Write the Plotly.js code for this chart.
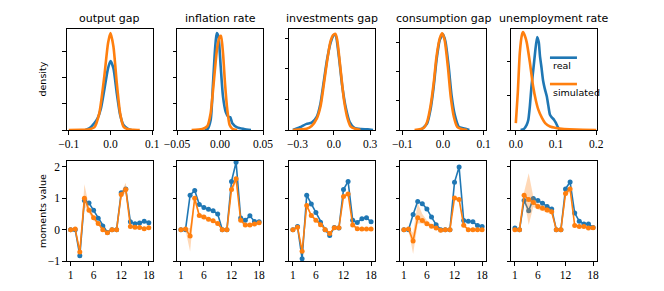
<!DOCTYPE html>
<html><head><meta charset="utf-8">
<script src="https://cdn.plot.ly/plotly-3.0.1.min.js"></script>
<style>html,body{margin:0;padding:0;background:#fff}#chart{width:664px;height:291px}</style>
</head><body><div id="chart"></div>
<script>
// ---------- data ----------
const panelTitles = ["output gap", "inflation rate", "investments gap", "consumption gap", "unemployment rate"];
const seriesNames = ["real", "simulated"];

// top row: densities (real / simulated)
const ogRealX = [-0.06, -0.051, -0.039, -0.031, -0.023, -0.015, -0.006, 0, 0.007, 0.015, 0.023, 0.031, 0.042, 0.05];
const ogRealY = [0, 0.06, 0.26, 0.45, 0.83, 1.54, 2.37, 2.65, 2.37, 1.41, 0.58, 0.19, 0.04, 0];
const ogSimX = [-0.1, -0.07, -0.051, -0.039, -0.027, -0.015, -0.006, 0, 0.007, 0.015, 0.023, 0.031, 0.042, 0.055, 0.07];
const ogSimY = [0, 0.005, 0.03, 0.1, 0.64, 2.05, 3.33, 3.72, 3.2, 1.8, 0.64, 0.13, 0.03, 0.01, 0];

const infRealX = [-0.018, -0.0147, -0.0109, -0.0081, -0.0058, -0.0039, -0.0019, 0.0008, 0.0035, 0.0066, 0.0097, 0.012, 0.0143, 0.02, 0.0279, 0.036];
const infRealY = [0, 0.03, 0.38, 1.8, 3.08, 3.72, 3.6, 2.44, 1.28, 0.7, 0.51, 0.49, 0.26, 0.1, 0.04, 0];
const infSimX = [-0.033, -0.0205, -0.0147, -0.0109, -0.007, -0.0031, 0, 0.0012, 0.0035, 0.0058, 0.0085, 0.0112, 0.0143, 0.02];
const infSimY = [0, 0.04, 0.15, 0.64, 1.92, 3.2, 3.6, 3.62, 2.95, 1.8, 0.77, 0.19, 0.05, 0];

const invRealX = [-0.338, -0.28, -0.225, -0.183, -0.14, -0.11, -0.085, -0.056, -0.028, 0.0, 0.014, 0.042, 0.07, 0.1, 0.13, 0.17, 0.225, 0.28, 0.324];
const invRealY = [0, 0.09, 0.2, 0.24, 0.44, 0.87, 1.53, 2.3, 2.84, 3.11, 3.11, 2.4, 1.42, 0.71, 0.27, 0.07, 0.03, 0.02, 0];
const invSimX = [-0.338, -0.225, -0.183, -0.14, -0.11, -0.085, -0.056, -0.028, -0.006, 0.014, 0.028, 0.056, 0.084, 0.113, 0.14, 0.183, 0.22];
const invSimY = [0, 0.04, 0.13, 0.38, 0.77, 1.42, 2.24, 2.9, 3.11, 3.15, 2.95, 1.97, 0.98, 0.38, 0.11, 0.03, 0];

const conRealX = [-0.054, -0.039, -0.031, -0.023, -0.016, -0.008, 0.0, 0.006, 0.014, 0.021, 0.029, 0.039, 0.05, 0.065];
const conRealY = [0.01, 0.23, 0.69, 1.49, 2.41, 3.1, 3.3, 3.05, 2.18, 1.2, 0.52, 0.11, 0.06, 0];
const conSimX = [-0.07, -0.047, -0.039, -0.031, -0.023, -0.016, -0.008, -0.002, 0.004, 0.012, 0.019, 0.027, 0.035, 0.047, 0.06];
const conSimY = [0, 0.08, 0.29, 0.8, 1.61, 2.53, 3.16, 3.33, 3.1, 2.18, 1.15, 0.44, 0.11, 0.03, 0];

const unRealX = [0.012, 0.02, 0.027, 0.031, 0.035, 0.039, 0.044, 0.048, 0.053, 0.057, 0.06, 0.064, 0.068, 0.072, 0.077, 0.081, 0.085, 0.09, 0.095, 0.1, 0.108, 0.12];
const unRealY = [0, 0.03, 0.15, 0.29, 0.7, 1.27, 1.8, 2.25, 2.7, 2.55, 2.16, 1.8, 1.42, 1.2, 0.98, 0.7, 0.44, 0.36, 0.3, 0.2, 0.02, 0];
const unSimX = [0, 0.005, 0.01, 0.015, 0.018, 0.022, 0.027, 0.035, 0.043, 0.05, 0.056, 0.065, 0.073, 0.085, 0.1, 0.12, 0.15, 0.2];
const unSimY = [0.2, 1.1, 2.25, 2.75, 2.84, 2.75, 2.55, 1.96, 1.27, 0.85, 0.59, 0.35, 0.2, 0.1, 0.06, 0.03, 0.01, 0];

// bottom row: moments
const momentIdx = [1, 2, 3, 4, 5, 6, 7, 8, 9, 10, 11, 12, 13, 14, 15, 16, 17, 18];
const momentTicks = [1, 6, 12, 18];
const momentValueTicks = [-1, 0, 1, 2];

const ogReal  = [0, 0, -0.83, 0.93, 0.85, 0.62, 0.36, 0.12, -0.09, 0, 0, 1.18, 1.3, 0.25, 0.19, 0.21, 0.27, 0.22];
const ogSim   = [0, 0.02, -0.71, 1.0, 0.62, 0.38, 0.2, 0.0, -0.1, 0.0, 0.0, 1.12, 1.28, 0.1, 0.08, 0.07, 0.03, 0.06];
const ogSimHi = [0.01, 0.04, -0.6, 1.45, 0.75, 0.45, 0.26, 0.05, -0.06, 0.01, 0.01, 1.2, 1.5, 0.14, 0.11, 0.1, 0.06, 0.09];
const ogSimLo = [-0.01, 0.0, -0.78, 0.75, 0.52, 0.3, 0.14, -0.05, -0.14, -0.01, -0.01, 1.05, 1.18, 0.06, 0.05, 0.04, 0.0, 0.03];

const infReal  = [0, 0, 1.1, 1.25, 0.8, 0.71, 0.65, 0.6, 0.5, 0, 0, 1.54, 2.15, 0.37, 0.3, 0.44, 0.26, 0.25];
const infSim   = [0, 0.02, -0.2, 1.0, 0.45, 0.4, 0.33, 0.28, 0.2, 0.0, 0.0, 1.28, 1.62, 0.3, 0.15, 0.15, 0.18, 0.22];
const infSimHi = [0.01, 0.05, 0.05, 1.08, 0.52, 0.46, 0.38, 0.33, 0.25, 0.01, 0.01, 1.38, 1.72, 0.36, 0.2, 0.2, 0.22, 0.26];
const infSimLo = [-0.01, -0.02, -0.7, 0.85, 0.38, 0.34, 0.28, 0.23, 0.15, -0.01, -0.01, 1.18, 1.5, 0.24, 0.1, 0.1, 0.14, 0.18];

const invReal  = [0, 0.1, -0.93, 1.1, 0.82, 0.55, 0.24, 0.0, -0.19, 0.07, 0.05, 1.28, 1.54, 0.3, 0.23, 0.35, 0.38, 0.25];
const invSim   = [0, 0.08, -0.69, 0.77, 0.45, 0.3, 0.16, 0.0, -0.12, 0.06, 0.06, 1.06, 1.14, 0.15, 0.03, 0.02, 0.02, 0.02];
const invSimHi = [0.02, 0.11, -0.59, 0.85, 0.5, 0.34, 0.2, 0.04, -0.08, 0.09, 0.09, 1.11, 1.19, 0.19, 0.06, 0.05, 0.05, 0.05];
const invSimLo = [-0.02, 0.05, -0.79, 0.69, 0.4, 0.26, 0.12, -0.04, -0.16, 0.03, 0.03, 1.01, 1.09, 0.11, 0.0, -0.01, -0.01, -0.01];

const conReal  = [0, 0, 0.48, 0.9, 0.83, 0.66, 0.4, 0.16, 0, 0, 0, 1.51, 2.0, 0.29, 0.27, 0.25, 0.13, 0.1];
const conSim   = [0, 0.02, -0.36, 0.38, 0.29, 0.19, 0.11, 0.05, -0.02, 0.0, 0.0, 1.01, 0.96, 0.14, 0.0, 0.0, 0.0, 0.0];
const conSimHi = [0.01, 0.04, -0.1, 0.85, 0.5, 0.3, 0.17, 0.09, 0.01, 0.01, 0.01, 1.06, 1.02, 0.18, 0.02, 0.02, 0.02, 0.02];
const conSimLo = [-0.01, 0.0, -0.78, 0.2, 0.2, 0.12, 0.06, 0.01, -0.05, -0.01, -0.01, 0.96, 0.9, 0.1, -0.02, -0.02, -0.02, -0.02];

const unReal  = [0.05, 0, 0.93, 0.6, 0.99, 0.93, 0.84, 0.74, 0.66, 0, 0, 1.3, 1.52, 0.53, 0.27, 0.18, 0.18, 0.07];
const unSim   = [0, 0, 1.1, 0.96, 0.87, 0.74, 0.68, 0.63, 0.57, 0, 0, 1.15, 1.3, 0.13, 0.1, 0.1, 0.05, 0.06];
const unSimHi = [0.02, 0.02, 1.2, 1.8, 1.05, 0.85, 0.77, 0.72, 0.66, 0.01, 0.01, 1.25, 1.4, 0.17, 0.13, 0.13, 0.09, 0.1];
const unSimLo = [-0.02, -0.02, 0.98, 0.15, 0.72, 0.64, 0.6, 0.55, 0.48, -0.01, -0.01, 1.05, 1.2, 0.09, 0.07, 0.07, 0.02, 0.03];

// axis tick labels
const densityXTicks = [[-0.1, 0, 0.1], [-0.05, 0, 0.05], [-0.3, 0, 0.3], [-0.1, 0, 0.1], [0, 0.1, 0.2]];
const densityXFormats = [".1f", ".2f", ".1f", ".1f", ".1f"];

// ---------- styling / layout ----------
const BLUE = "#1f77b4", ORANGE = "#ff7f0e";
const W = 664, H = 291;
const colLeft = [66.7, 177, 289, 400, 511];
const colW = 86;
const topRow = [29, 130], botRow = [161, 261];
const densXRange = [[-0.105, 0.101], [-0.05, 0.05], [-0.37, 0.34], [-0.106, 0.106], [-0.012, 0.202]];
const densYRange = [[0, 3.88], [0, 3.88], [0, 3.31], [0, 3.48], [0, 2.93]];

const densities = [
  [ogRealX, ogRealY, ogSimX, ogSimY],
  [infRealX, infRealY, infSimX, infSimY],
  [invRealX, invRealY, invSimX, invSimY],
  [conRealX, conRealY, conSimX, conSimY],
  [unRealX, unRealY, unSimX, unSimY]
];
const momentsData = [
  [ogReal, ogSim, ogSimLo, ogSimHi],
  [infReal, infSim, infSimLo, infSimHi],
  [invReal, invSim, invSimLo, invSimHi],
  [conReal, conSim, conSimLo, conSimHi],
  [unReal, unSim, unSimLo, unSimHi]
];

const tickFont = {family: "Liberation Serif, serif", size: 11.5, color: "#000"};
const axBase = {showgrid: false, zeroline: false, showline: true, mirror: true, linecolor: "#000", linewidth: 1,
  ticks: "outside", ticklen: 3.5, tickwidth: 1, tickcolor: "#000", tickfont: tickFont, fixedrange: true};

const traces = [];
const layout = {width: W, height: H, margin: {l: 0, r: 0, t: 0, b: 0}, showlegend: false,
  paper_bgcolor: "#fff", plot_bgcolor: "#fff", annotations: [], shapes: []};

for (let i = 0; i < 5; i++) {
  const xd = [colLeft[i] / W, (colLeft[i] + colW) / W];
  const tI = i + 1, bI = i + 6;
  const [rx, ry, sx, sy] = densities[i];
  traces.push({x: rx, y: ry, xaxis: "x" + tI, yaxis: "y" + tI, type: "scatter", mode: "lines",
    line: {color: BLUE, width: 2.6, shape: "spline", smoothing: 0.6}, name: seriesNames[0]});
  traces.push({x: sx, y: sy, xaxis: "x" + tI, yaxis: "y" + tI, type: "scatter", mode: "lines",
    line: {color: ORANGE, width: 2.6, shape: "spline", smoothing: 0.6}, name: seriesNames[1]});
  layout["xaxis" + tI] = Object.assign({}, axBase, {domain: xd, anchor: "y" + tI, range: densXRange[i],
    tickvals: densityXTicks[i], tickformat: densityXFormats[i]});
  layout["yaxis" + tI] = Object.assign({}, axBase, {domain: [1 - topRow[1] / H, 1 - topRow[0] / H], anchor: "x" + tI,
    range: densYRange[i], dtick: 1, tick0: 0, showticklabels: false});

  const [mr, ms, lo, hi] = momentsData[i];
  traces.push({x: momentIdx, y: mr, xaxis: "x" + bI, yaxis: "y" + bI, type: "scatter", mode: "lines+markers",
    line: {color: BLUE, width: 1.6}, marker: {color: BLUE, size: 5}, name: seriesNames[0]});
  traces.push({x: momentIdx, y: lo, xaxis: "x" + bI, yaxis: "y" + bI, type: "scatter", mode: "lines",
    line: {width: 0, color: "rgba(255,127,14,0)"}, hoverinfo: "skip"});
  traces.push({x: momentIdx, y: hi, xaxis: "x" + bI, yaxis: "y" + bI, type: "scatter", mode: "lines",
    fill: "tonexty", fillcolor: "rgba(255,127,14,0.3)", line: {width: 0, color: "rgba(255,127,14,0)"}, hoverinfo: "skip"});
  traces.push({x: momentIdx, y: ms, xaxis: "x" + bI, yaxis: "y" + bI, type: "scatter", mode: "lines+markers",
    line: {color: ORANGE, width: 1.6}, marker: {color: ORANGE, size: 5}, name: seriesNames[1]});
  layout["xaxis" + bI] = Object.assign({}, axBase, {domain: xd, anchor: "y" + bI, range: [0.15, 18.85],
    tickvals: momentTicks});
  layout["yaxis" + bI] = Object.assign({}, axBase, {domain: [1 - botRow[1] / H, 1 - botRow[0] / H], anchor: "x" + bI,
    range: [-1, 2.19], tickvals: momentValueTicks, showticklabels: i === 0});

  layout.annotations.push({text: panelTitles[i], xref: "paper", yref: "paper",
    x: (colLeft[i] + colW / 2) / W, y: 1 - 18 / H, xanchor: "center", yanchor: "middle", showarrow: false,
    font: {family: "DejaVu Sans, sans-serif", size: 11, color: "#000"}});
}

// y labels
layout.annotations.push({text: "density", xref: "paper", yref: "paper", x: 42 / W, y: 1 - 79.5 / H,
  xanchor: "center", yanchor: "middle", textangle: -90, showarrow: false,
  font: {family: "DejaVu Sans, sans-serif", size: 9.5, color: "#000"}});
layout.annotations.push({text: "moments value", xref: "paper", yref: "paper", x: 42 / W, y: 1 - 211 / H,
  xanchor: "center", yanchor: "middle", textangle: -90, showarrow: false,
  font: {family: "DejaVu Sans, sans-serif", size: 9.5, color: "#000"}});

// legend (inside the last density panel)
const legendItems = [[seriesNames[0], BLUE, 0.716, 0.634], [seriesNames[1], ORANGE, 0.455, 0.376]];
legendItems.forEach(([name, col, ly, ty]) => {
  layout.shapes.push({type: "line", xref: "x5 domain", yref: "y5 domain", x0: 0.453, x1: 0.767, y0: ly, y1: ly,
    line: {color: col, width: 2.6}});
  layout.annotations.push({text: name, xref: "x5 domain", yref: "y5 domain", x: 0.46, y: ty,
    xanchor: "left", yanchor: "middle", showarrow: false,
    font: {family: "DejaVu Sans, sans-serif", size: 9.5, color: "#000"}});
});

Plotly.newPlot("chart", traces, layout, {displayModeBar: false, staticPlot: true});
</script>
</body></html>
